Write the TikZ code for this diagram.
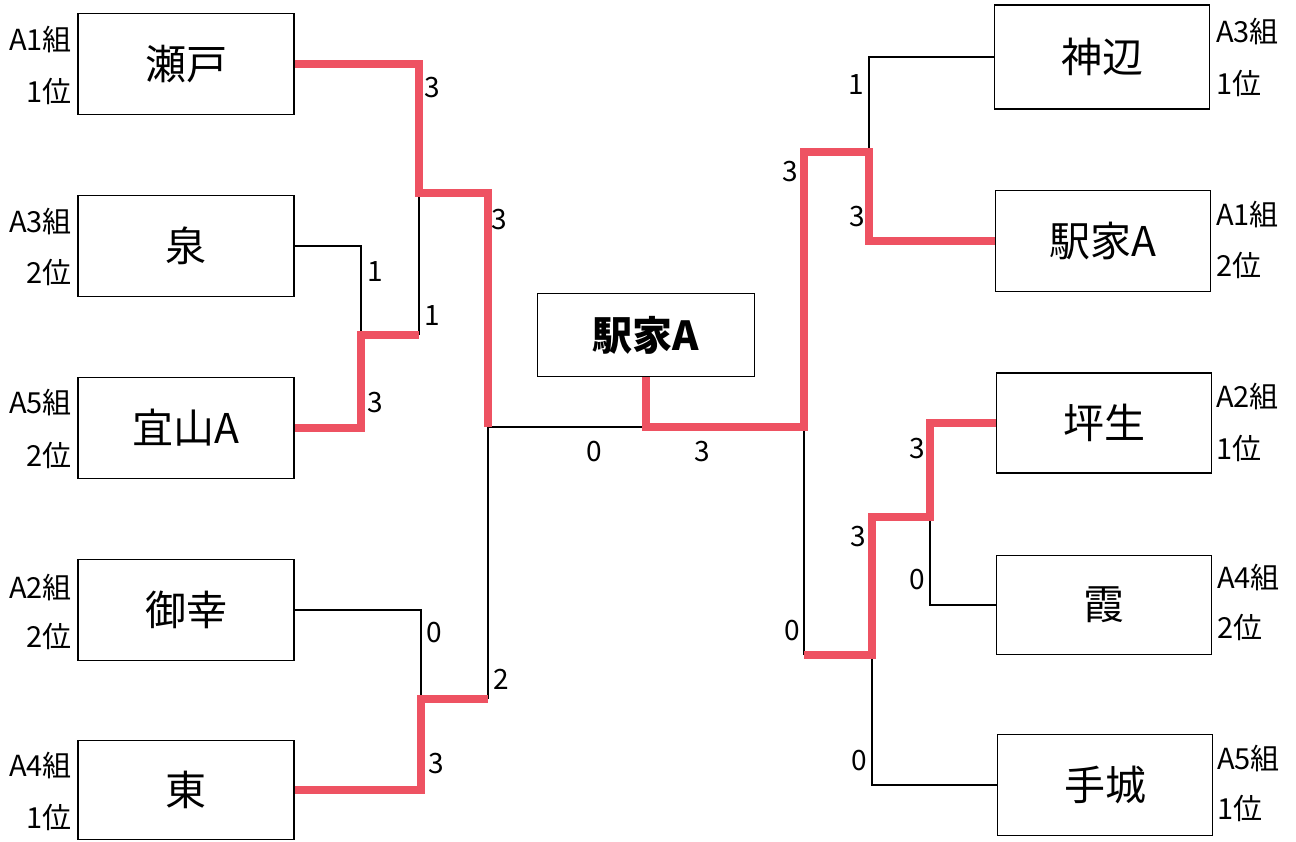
\documentclass[tikz,border=0pt]{standalone}
\usepackage{fontspec}
\setmainfont{Noto Sans CJK JP}
\usetikzlibrary{positioning}
\definecolor{winred}{RGB}{238,82,98}

\begin{document}
\begin{tikzpicture}[x=1pt,y=-1pt,
        team/.style={rectangle,draw,line width=1.6pt,minimum width=216pt,minimum height=101pt,font=\fontsize{41}{48}\selectfont},
        grp/.style={inner sep=0pt,font=\fontsize{29}{34}\selectfont},
        score/.style={inner sep=0pt,font=\fontsize{28}{32}\selectfont},
        win/.style={draw=winred,line width=7.5pt},
        lose/.style={draw=black,line width=1.5pt}]
        \useasboundingbox (0,0) rectangle (1296,841);

        % left block
        \node at (186, 64) [team] (seto) {瀬戸};
        \node at (186,246) [team] (izumi) {泉};
        \node at (186,428) [team] (gisan) {宜山A};
        \node at (186,610) [team] (miyuki) {御幸};
        \node at (186,790) [team, minimum height=99pt] (higashi) {東};

        \node at (72, 40) [grp, anchor=east] (seto_g) {A1組};
        \node at (72, 91) [grp, anchor=east] (seto_r) {1位};
        \node at (72,222) [grp, anchor=east] (izumi_g) {A3組};
        \node at (72,272) [grp, anchor=east] (izumi_r) {2位};
        \node at (72,403) [grp, anchor=east] (gisan_g) {A5組};
        \node at (72,455) [grp, anchor=east] (gisan_r) {2位};
        \node at (72,587) [grp, anchor=east] (miyuki_g) {A2組};
        \node at (72,636) [grp, anchor=east] (miyuki_r) {2位};
        \node at (72,765) [grp, anchor=east] (higashi_g) {A4組};
        \node at (72,817) [grp, anchor=east] (higashi_r) {1位};

        % right block
        \node at (1102, 57) [team, minimum width=215pt, minimum height=104pt] (kannabe) {神辺};
        \node at (1103,241) [team, minimum width=215pt] (ekiya) {駅家A};
        \node at (1104,423) [team, minimum width=215pt, minimum height=100pt] (tsubuyu) {坪生};
        \node at (1104,605) [team, minimum width=215pt, minimum height=99pt] (kasumi) {霞};
        \node at (1105,785) [team, minimum width=215pt] (tejo) {手城};

        \node at (1216, 32) [grp, anchor=west] (kannabe_g) {A3組};
        \node at (1216, 83) [grp, anchor=west] (kannabe_r) {1位};
        \node at (1216,215) [grp, anchor=west] (ekiya_g) {A1組};
        \node at (1216,265) [grp, anchor=west] (ekiya_r) {2位};
        \node at (1216,397) [grp, anchor=west] (tsubuyu_g) {A2組};
        \node at (1216,448) [grp, anchor=west] (tsubuyu_r) {1位};
        \node at (1217,578) [grp, anchor=west] (kasumi_g) {A4組};
        \node at (1217,627) [grp, anchor=west] (kasumi_r) {2位};
        \node at (1217,758) [grp, anchor=west] (tejo_g) {A5組};
        \node at (1217,808) [grp, anchor=west] (tejo_r) {1位};

        % champion
        \node at (646,335) [team, minimum width=217pt, minimum height=83pt, font=\fontsize{40}{48}\selectfont\bfseries] (champ) {駅家A};

        % junctions
        \coordinate (q1)  at (361,335);
        \coordinate (q1e) at (419,335);
        \coordinate (sf1) at (419,193);
        \coordinate (q2)  at (421,699);
        \coordinate (sf2) at (488,699);
        \coordinate (lf)  at (488,427);
        \coordinate (fin) at (champ.south |- lf);
        \coordinate (rf)  at (804,427);
        \coordinate (sf3) at (869,152);
        \coordinate (q3)  at (930,517);
        \coordinate (sf4) at (872,655);
        \coordinate (rl)  at (804,655);

        % losing lines
        \draw[lose] (izumi.east) -| (q1);
        \draw[lose] (sf1) -- (q1e);
        \draw[lose] (miyuki.east) -| (q2);
        \draw[lose] (sf2) -- (lf) -- (fin);
        \draw[lose] (kannabe.west) -| (sf3);
        \draw[lose] (kasumi.west) -| (q3);
        \draw[lose] (tejo.west) -| (sf4);
        \draw[lose] (rl) -- (rf);

        % winning lines
        \draw[win] (seto.east) -| (sf1) -| (lf);
        \draw[win] (gisan.east) -| (q1) -- (q1e);
        \draw[win] (higashi.east) -| (q2) -- (sf2);
        \draw[win] (champ.south) |- (rf) |- (sf3) |- (ekiya.west);
        \draw[win] (tsubuyu.west) -| (q3) -| (sf4) -- (rl);

        % scores
        \node at (432, 88) [score] (s_seto) {3};
        \node at (375,272) [score] (s_izumi) {1};
        \node at (375,403) [score] (s_gisan) {3};
        \node at (432,316) [score] (s_q1) {1};
        \node at (499,220) [score] (s_sf1) {3};
        \node at (434,633) [score] (s_miyuki) {0};
        \node at (436,764) [score] (s_higashi) {3};
        \node at (501,679) [score] (s_sf2) {2};
        \node at (594,452) [score] (s_left) {0};
        \node at (702,452) [score] (s_right) {3};
        \node at (856, 85) [score] (s_kannabe) {1};
        \node at (857,217) [score] (s_ekiya) {3};
        \node at (790,172) [score] (s_sf3) {3};
        \node at (917,449) [score] (s_tsubuyu) {3};
        \node at (917,580) [score] (s_kasumi) {0};
        \node at (858,537) [score] (s_q3) {3};
        \node at (859,761) [score] (s_tejo) {0};
        \node at (792,631) [score] (s_sf4) {0};
    \end{tikzpicture}
\end{document}
